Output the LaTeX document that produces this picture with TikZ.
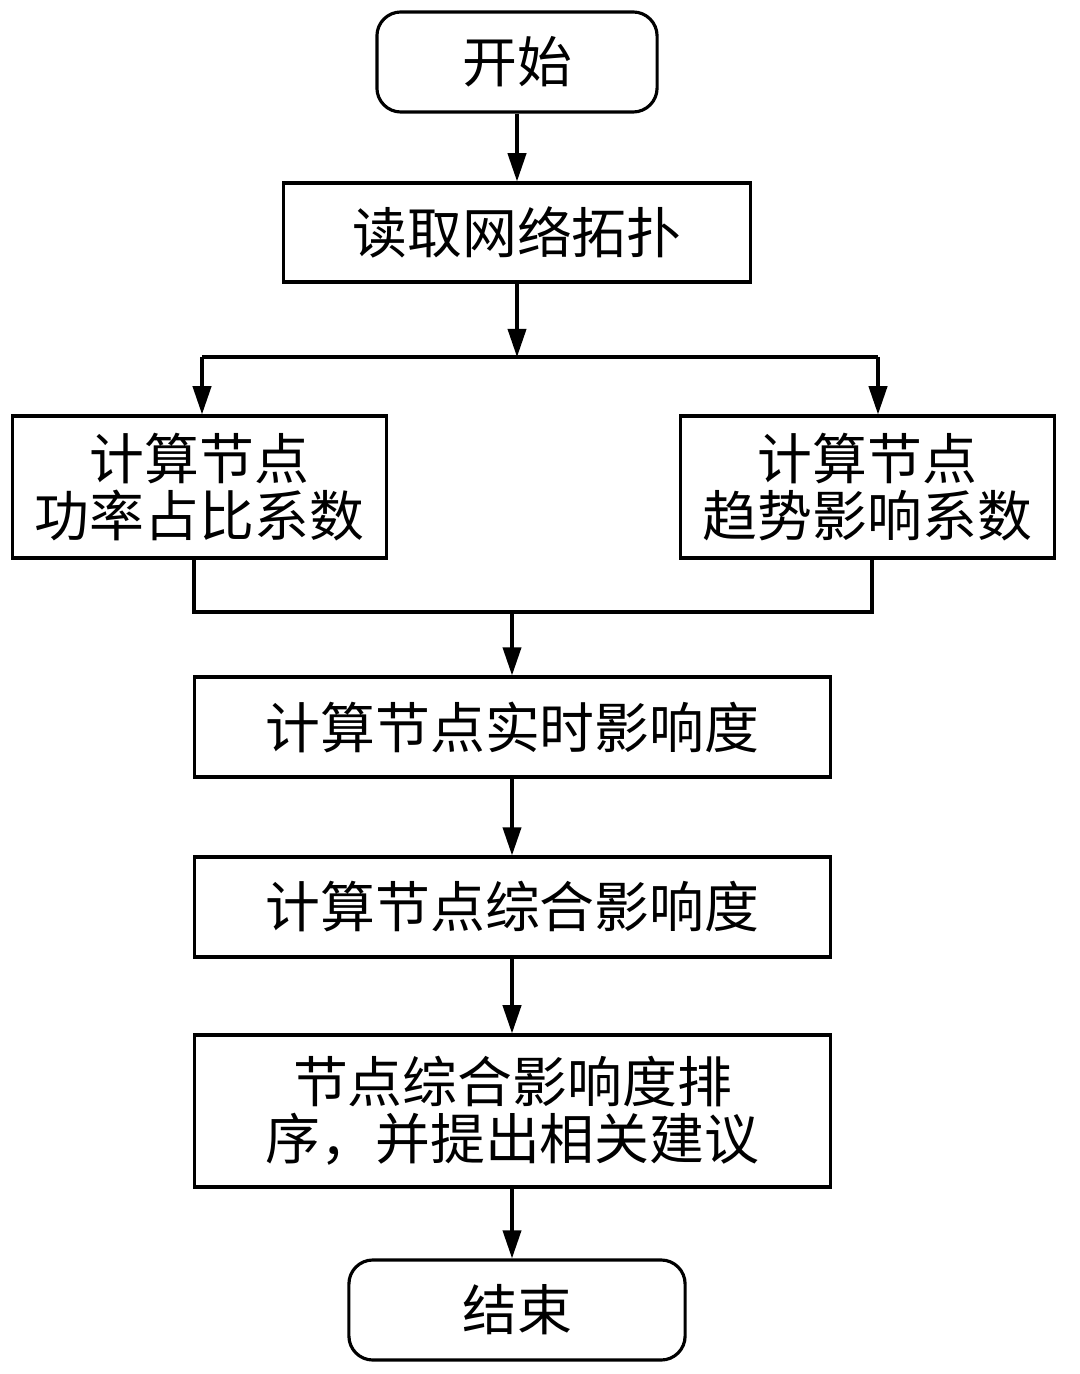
\documentclass[tikz,border=0pt]{standalone}
\usepackage{fontspec}
\newfontfamily\cjk{Noto Sans CJK SC}
\usetikzlibrary{arrows.meta}
\begin{document}
\begin{tikzpicture}[x=0.01cm,y=-0.01cm,
  box/.style={draw, line width=0.9pt, inner sep=0pt, align=center,
    font=\cjk\fontsize{15.6}{16.3}\selectfont},
  term/.style={box, rounded corners=0.24cm},
  arr/.style={-{Triangle[length=8pt,width=5.2pt]}, line width=0.9pt},
  ln/.style={line width=0.9pt}]
\useasboundingbox (0,0) rectangle (1080,1374);

\node[term, minimum width=2.80cm, minimum height=1.00cm] (start) at (517,62) {开始};
\node[box, minimum width=4.66cm, minimum height=0.99cm] (read) at (517,232.5) {读取网络拓扑};
\node[box, minimum width=3.73cm, minimum height=1.42cm] (left) at (199.5,487) {计算节点\\功率占比系数};
\node[box, minimum width=3.73cm, minimum height=1.42cm] (right) at (867.5,487) {计算节点\\趋势影响系数};
\node[box, minimum width=6.35cm, minimum height=1.00cm] (rt) at (512.5,727) {计算节点实时影响度};
\node[box, minimum width=6.35cm, minimum height=1.00cm] (cp) at (512.5,907) {计算节点综合影响度};
\node[box, minimum width=6.35cm, minimum height=1.52cm] (sort) at (512.5,1111) {节点综合影响度排\\序，并提出相关建议};
\node[term, minimum width=3.36cm, minimum height=1.00cm] (end) at (517,1310) {结束};

\coordinate (jm) at (517,357);
\coordinate (jl) at (202,357);
\coordinate (jr) at (878,357);
\coordinate (bl) at (194,612);
\coordinate (br) at (872,612);
\coordinate (bm) at (512,612);

\draw[arr] (start) -- (read);
\draw[arr] (read) -- (jm);
\draw[ln] (jl) -- (jr);
\draw[arr] (jl) -- (jl |- left.north);
\draw[arr] (jr) -- (jr |- right.north);
\draw[ln] (left.south -| bl) -- (bl) -- (br) -- (right.south -| br);
\draw[arr] (bm) -- (bm |- rt.north);
\draw[arr] (bm |- rt.south) -- (bm |- cp.north);
\draw[arr] (bm |- cp.south) -- (bm |- sort.north);
\draw[arr] (bm |- sort.south) -- (bm |- end.north);
\end{tikzpicture}
\end{document}
